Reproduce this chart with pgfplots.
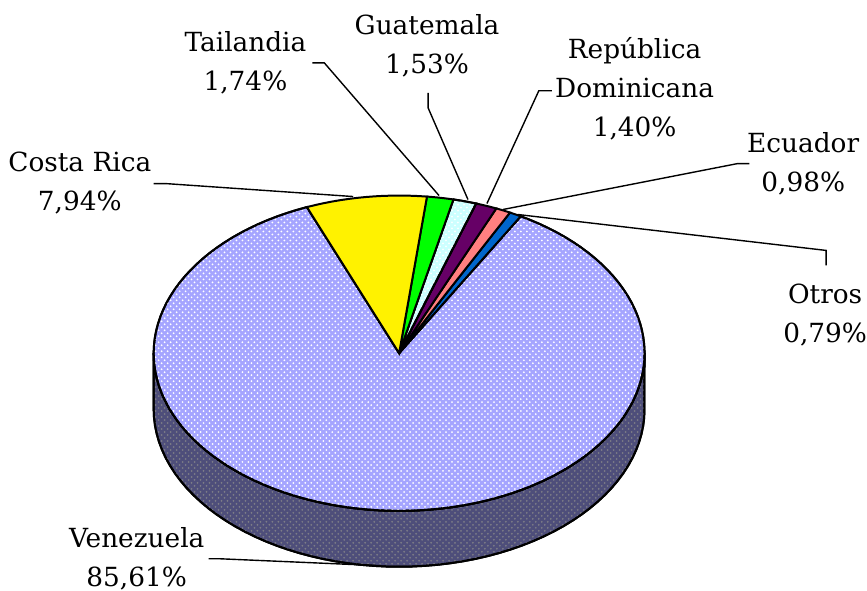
\documentclass[border=0pt]{standalone}
\usepackage{pgfplots}
\usepackage{pgfplotstable}
\pgfplotsset{compat=1.18}
\usetikzlibrary{patterns}
\usepackage{fontspec}
\setmainfont{DejaVu Serif}

\definecolor{venez}{RGB}{165,165,255}
\definecolor{sidec}{RGB}{78,78,122}
\definecolor{sidedot}{RGB}{125,125,135}
\definecolor{guat}{RGB}{204,255,255}
\definecolor{rdom}{RGB}{102,0,102}
\definecolor{ecua}{RGB}{255,128,128}
\definecolor{otros}{RGB}{0,102,204}

% slices in counter-clockwise order, starting at the right edge of "Otros"
\pgfplotstableread{
name pct
Otros 0.79
Ecuador 0.98
RepDom 1.40
Guatemala 1.53
Tailandia 1.74
CostaRica 7.94
Venezuela 85.61
}\piedata

\pgfmathsetmacro\aS{60.3}
\pgfplotstablegetelem{0}{pct}\of\piedata \pgfmathsetmacro\aA{\aS+3.6*\pgfplotsretval}
\pgfplotstablegetelem{1}{pct}\of\piedata \pgfmathsetmacro\aB{\aA+3.6*\pgfplotsretval}
\pgfplotstablegetelem{2}{pct}\of\piedata \pgfmathsetmacro\aC{\aB+3.6*\pgfplotsretval}
\pgfplotstablegetelem{3}{pct}\of\piedata \pgfmathsetmacro\aD{\aC+3.6*\pgfplotsretval}
\pgfplotstablegetelem{4}{pct}\of\piedata \pgfmathsetmacro\aE{\aD+3.6*\pgfplotsretval}
\pgfplotstablegetelem{5}{pct}\of\piedata \pgfmathsetmacro\aF{\aE+3.6*\pgfplotsretval}
\pgfmathsetmacro\aG{\aS+360}

\begin{document}
\begin{tikzpicture}
\begin{axis}[
  scale only axis, width=433.5pt, height=296pt,
  xmin=0, xmax=867, ymin=0, ymax=592,
  hide axis, clip=false,
  every axis plot/.append style={line width=1pt, draw=black},
]
\path (rel axis cs:0,0) rectangle (rel axis cs:1,1);
% side of the cylinder
\addplot[fill=sidec, postaction={pattern=crosshatch dots, pattern color=sidedot},
  domain=180:540, samples=121]
  ({400+246*cos(x<=360 ? x : 720-x)}, {(x<=360 ? 238 : 182)+158*sin(x<=360 ? x : 720-x)}) -- cycle;
% top face slices
\addplot[fill=venez, postaction={pattern=crosshatch dots, pattern color=white}, domain=\aF:\aG, samples=120]
  ({400+246*cos(x)}, {238+158*sin(x)}) -- (axis cs:400,238) -- cycle;
\addplot[fill=otros, domain=\aS:\aA, samples=6]
  ({400+246*cos(x)}, {238+158*sin(x)}) -- (axis cs:400,238) -- cycle;
\addplot[fill=ecua, domain=\aA:\aB, samples=6]
  ({400+246*cos(x)}, {238+158*sin(x)}) -- (axis cs:400,238) -- cycle;
\addplot[fill=rdom, domain=\aB:\aC, samples=6]
  ({400+246*cos(x)}, {238+158*sin(x)}) -- (axis cs:400,238) -- cycle;
\addplot[fill=guat, postaction={pattern=crosshatch dots, pattern color=white}, domain=\aC:\aD, samples=6]
  ({400+246*cos(x)}, {238+158*sin(x)}) -- (axis cs:400,238) -- cycle;
\addplot[fill=green, domain=\aD:\aE, samples=6]
  ({400+246*cos(x)}, {238+158*sin(x)}) -- (axis cs:400,238) -- cycle;
\addplot[fill=yellow, domain=\aE:\aF, samples=15]
  ({400+246*cos(x)}, {238+158*sin(x)}) -- (axis cs:400,238) -- cycle;

% leader lines
\begin{scope}[line width=0.7pt]
\draw (axis cs:154,408) -- (axis cs:166,408) -- (axis cs:354,395);
\draw (axis cs:313,529) -- (axis cs:325,529) -- (axis cs:440,396);
\draw (axis cs:429,499) -- (axis cs:429,484) -- (axis cs:469,392);
\draw (axis cs:553,501) -- (axis cs:540,501) -- (axis cs:488,388);
\draw (axis cs:751,428) -- (axis cs:739,428) -- (axis cs:504,382);
\draw (axis cs:519,377) -- (axis cs:828,341) -- (axis cs:828,326);
\draw (axis cs:209,32) -- (axis cs:220,32) -- (axis cs:382,25);
\end{scope}

% labels
\begin{scope}[every node/.style={align=center, font=\fontsize{13.2}{19.5}\selectfont, inner sep=0pt}]
\node at (axis cs:80,408.5) {Costa Rica\\7,94\%};
\node at (axis cs:246,529) {Tailandia\\1,74\%};
\node at (axis cs:428,546.5) {Guatemala\\1,53\%};
\node at (axis cs:636,503) {República\\Dominicana\\1,40\%};
\node at (axis cs:805,428) {Ecuador\\0,98\%};
\node at (axis cs:827,276) {Otros\\0,79\%};
\node at (axis cs:137,32) {Venezuela\\85,61\%};
\end{scope}
\end{axis}
\end{tikzpicture}
\end{document}
